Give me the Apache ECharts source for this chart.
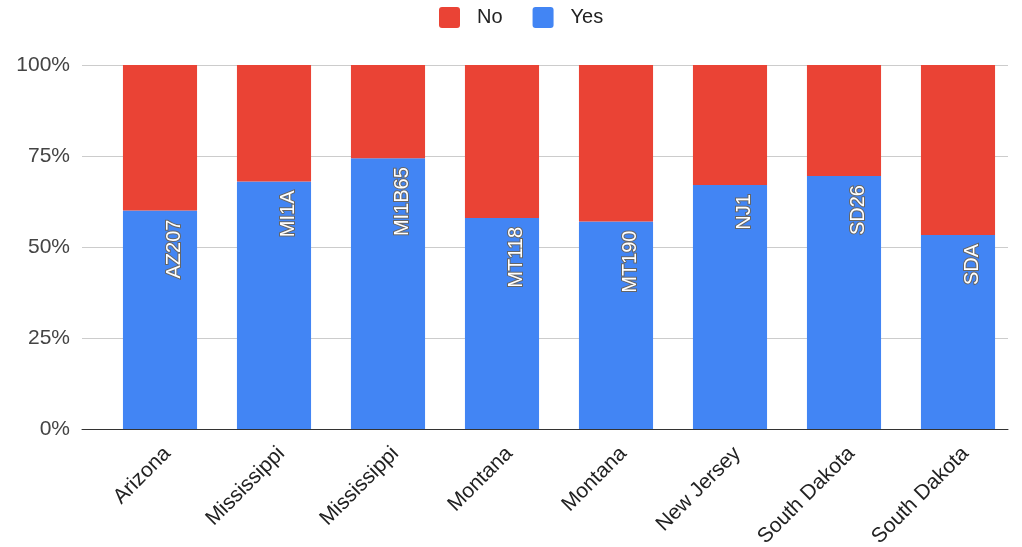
<!DOCTYPE html>
<html>
<head>
<meta charset="utf-8">
<script src="https://cdn.jsdelivr.net/npm/echarts@6/dist/echarts.min.js"></script>
<style>
html,body{margin:0;padding:0;background:#fff;}
#chart{width:1022px;height:547px;}
</style>
</head>
<body>
<div id="chart"></div>
<script>
const categories = ["Arizona","Mississippi","Mississippi","Montana","Montana","New Jersey","South Dakota","South Dakota"];
const siteCodes = ["AZ207","MI1A","MI1B65","MT118","MT190","NJ1","SD26","SDA"];
const yesPct = [60, 68, 74.4, 58, 57, 67, 69.5, 53.3];
const noPct = [40, 32, 25.6, 42, 43, 33, 30.5, 46.7];
const yTicks = ["0%","25%","50%","75%","100%"];

const chart = echarts.init(document.getElementById('chart'));
const font = 'Arial, "Liberation Sans", sans-serif';
const squareIcon = 'path://M3,0H18A3,3,0,0,1,21,3V18A3,3,0,0,1,18,21H3A3,3,0,0,1,0,18V3A3,3,0,0,1,3,0Z';
chart.setOption({
  animation: false,
  legend: {
    top: 2,
    left: 434,
    itemWidth: 21,
    itemHeight: 21,
    itemGap: 30,
    icon: squareIcon,
    textStyle: {fontSize: 20, color: '#222', fontFamily: font, padding: [0, 0, 0, 12]},
    data: ['No', 'Yes']
  },
  grid: [
    {left: 82, right: 14, top: 65, bottom: 118, containLabel: false, outerBoundsMode: 'none'},
    {left: 103, right: 7, top: 65, bottom: 118, containLabel: false, outerBoundsMode: 'none'}
  ],
  xAxis: [
    {
      gridIndex: 0, type: 'category', data: categories,
      axisTick: {show: false}, axisLabel: {show: false},
      axisLine: {lineStyle: {color: '#333', width: 1}}
    },
    {
      gridIndex: 1, type: 'category', data: categories,
      axisTick: {show: false},
      axisLine: {show: false},
      axisLabel: {rotate: 45, fontSize: 21, color: '#222', fontFamily: font, margin: 14,
                  verticalAlign: 'top', interval: 0}
    }
  ],
  yAxis: [
    {
      gridIndex: 0, type: 'value', min: 0, max: 100, interval: 25,
      axisLine: {show: false}, axisTick: {show: false},
      splitLine: {lineStyle: {color: '#ccc'}},
      axisLabel: {fontSize: 21, color: '#444', fontFamily: font, margin: 12,
                  formatter: v => yTicks[Math.round(v / 25)]}
    },
    {
      gridIndex: 1, type: 'value', min: 0, max: 100, interval: 25,
      axisLine: {show: false}, axisTick: {show: false},
      splitLine: {show: false}, axisLabel: {show: false}
    }
  ],
  series: [
    {
      name: 'Yes', type: 'bar', stack: 'total', data: yesPct,
      xAxisIndex: 1, yAxisIndex: 1,
      barWidth: '65%',
      itemStyle: {color: '#4285F4'},
      label: {
        show: true,
        position: 'insideTop',
        distance: 9,
        rotate: 90,
        align: 'right',
        verticalAlign: 'middle',
        offset: [0, 14],
        formatter: p => siteCodes[p.dataIndex],
        color: '#fff',
        fontSize: 20,
        fontFamily: font,
        textBorderColor: '#666',
        textBorderWidth: 2
      }
    },
    {
      name: 'No', type: 'bar', stack: 'total', data: noPct,
      xAxisIndex: 1, yAxisIndex: 1,
      barWidth: '65%',
      itemStyle: {color: '#EA4335'}
    }
  ]
});
</script>
</body>
</html>
